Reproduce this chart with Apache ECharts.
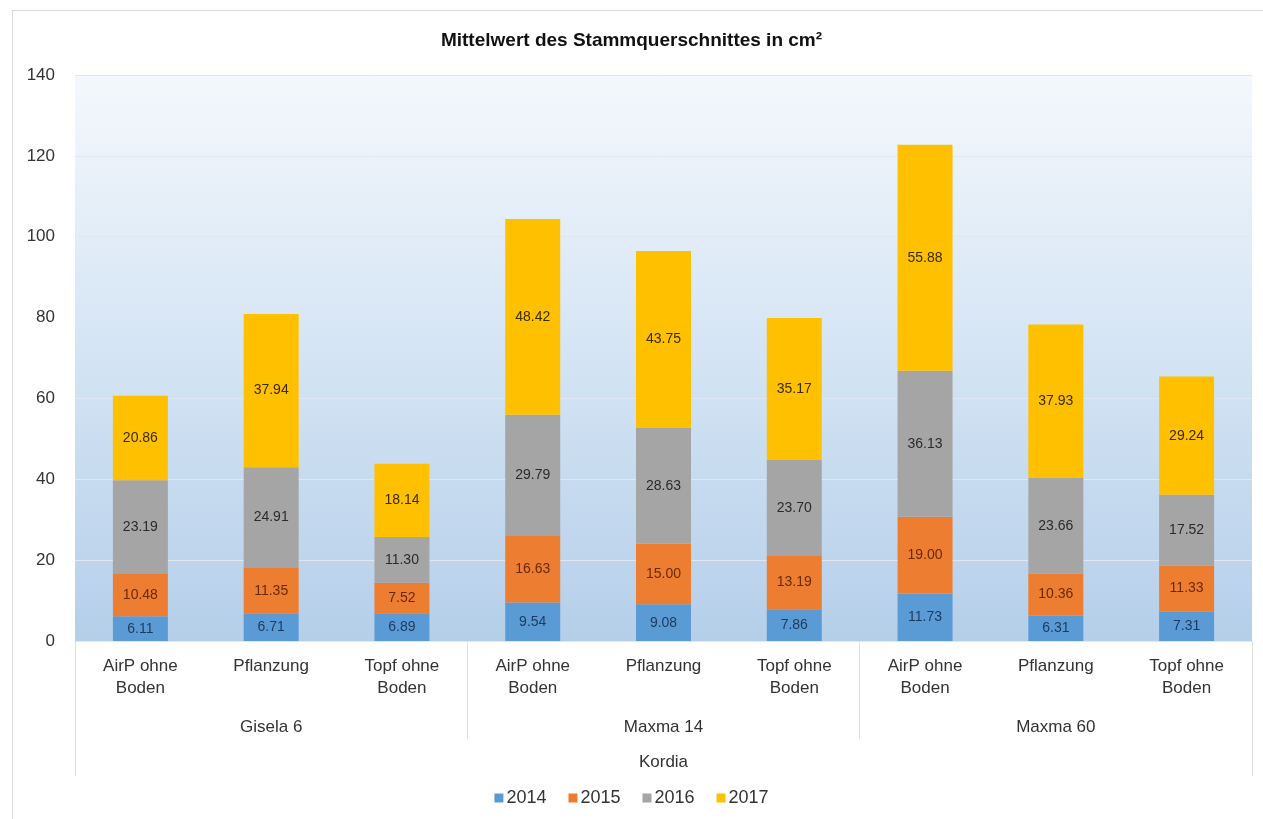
<!DOCTYPE html>
<html>
<head>
<meta charset="utf-8">
<script src="https://cdn.jsdelivr.net/npm/echarts@6/dist/echarts.min.js"></script>
<style>
	html, body { margin: 0; padding: 0; background: #fff; }
	#chart { position: absolute; left: 0; top: 0; width: 1263px; height: 819px; }
	.frame { position: absolute; left: 12px; top: 10px; width: 1260px; height: 820px; border: 1px solid #d9d9d9; box-sizing: border-box; }
</style>
</head>
<body>
<div class="frame"></div>
<div id="chart"></div>
<script>
	// Kategorien
	var behandlung = ['AirP ohne\nBoden', 'Pflanzung', 'Topf ohne\nBoden',
		'AirP ohne\nBoden', 'Pflanzung', 'Topf ohne\nBoden',
		'AirP ohne\nBoden', 'Pflanzung', 'Topf ohne\nBoden'];
	var unterlage = ['Gisela 6', 'Maxma 14', 'Maxma 60'];
	var sorte = ['Kordia'];
	var jahre = ['2014', '2015', '2016', '2017'];

	// Werte je Jahr
	var w2014 = [6.11, 6.71, 6.89, 9.54, 9.08, 7.86, 11.73, 6.31, 7.31];
	var w2015 = [10.48, 11.35, 7.52, 16.63, 15.00, 13.19, 19.00, 10.36, 11.33];
	var w2016 = [23.19, 24.91, 11.30, 29.79, 28.63, 23.70, 36.13, 23.66, 17.52];
	var w2017 = [20.86, 37.94, 18.14, 48.42, 43.75, 35.17, 55.88, 37.93, 29.24];

	var farben = ['#5B9BD5', '#ED7D31', '#A5A5A5', '#FFC000'];
	var textFarben = ['#1d3a5e', '#6b2a06', '#2b2b2b', '#3a2c00'];
	var werte = [w2014, w2015, w2016, w2017];

	var font = 'Liberation Sans, Arial, sans-serif';
	var myChart = echarts.init(document.getElementById('chart'));

	var series = jahre.map(function (j, i) {
		return {
			name: j,
			type: 'bar',
			stack: 'gesamt',
			barWidth: 55,
			data: werte[i],
			itemStyle: { color: farben[i] },
			label: {
				show: true,
				position: 'inside',
				fontFamily: font,
				fontSize: 14,
				color: textFarben[i],
				formatter: function (p) { return p.value.toFixed(2); }
			}
		};
	});

	var option = {
		backgroundColor: 'transparent',
		title: {
			text: 'Mittelwert des Stammquerschnittes in cm²',
			left: 'center',
			top: 26,
			textStyle: { fontFamily: font, fontSize: 19, fontWeight: 'bold', color: '#111' }
		},
		color: farben,
		legend: {
			bottom: 7,
			left: 'center',
			itemWidth: 9,
			itemHeight: 9,
			itemGap: 22,
			icon: 'rect',
			textStyle: { fontFamily: font, fontSize: 18, color: '#333', padding: [0, 0, 0, -2] },
			data: jahre
		},
		grid: {
			left: 75,
			right: 11,
			top: 75,
			bottom: 178,
			show: true,
			borderWidth: 0,
			backgroundColor: {
				type: 'linear', x: 0, y: 0, x2: 0, y2: 1,
				colorStops: [{ offset: 0, color: '#f4f8fc' }, { offset: 0.5, color: '#d4e4f4' }, { offset: 1, color: '#b5cfe9' }]
			}
		},
		xAxis: [
			{
				type: 'category',
				data: behandlung,
				position: 'bottom',
				axisLine: { show: true, lineStyle: { color: '#e4e8ec' } },
				axisTick: { show: false },
				axisLabel: { fontFamily: font, fontSize: 17, color: '#333', margin: 14, lineHeight: 22, interval: 0 }
			},
			{
				type: 'category',
				data: unterlage,
				position: 'bottom',
				axisLine: { show: false },
				axisTick: { show: true, length: 98, lineStyle: { color: '#e0e0e0' } },
				axisLabel: { fontFamily: font, fontSize: 17, color: '#333', margin: 78 },
				splitLine: { show: false }
			},
			{
				type: 'category',
				data: sorte,
				position: 'bottom',
				axisLine: { show: false },
				axisTick: { show: true, length: 135, lineStyle: { color: '#e0e0e0' } },
				axisLabel: { fontFamily: font, fontSize: 17, color: '#333', margin: 113 }
			}
		],
		yAxis: {
			type: 'value',
			min: 0,
			max: 140,
			interval: 20,
			axisLine: { show: false },
			axisTick: { show: false },
			axisLabel: { fontFamily: font, fontSize: 17, color: '#333', margin: 20 },
			splitLine: { lineStyle: { color: '#dfe8f2' } }
		},
		series: series
	};
	myChart.setOption(option);
</script>
</body>
</html>
